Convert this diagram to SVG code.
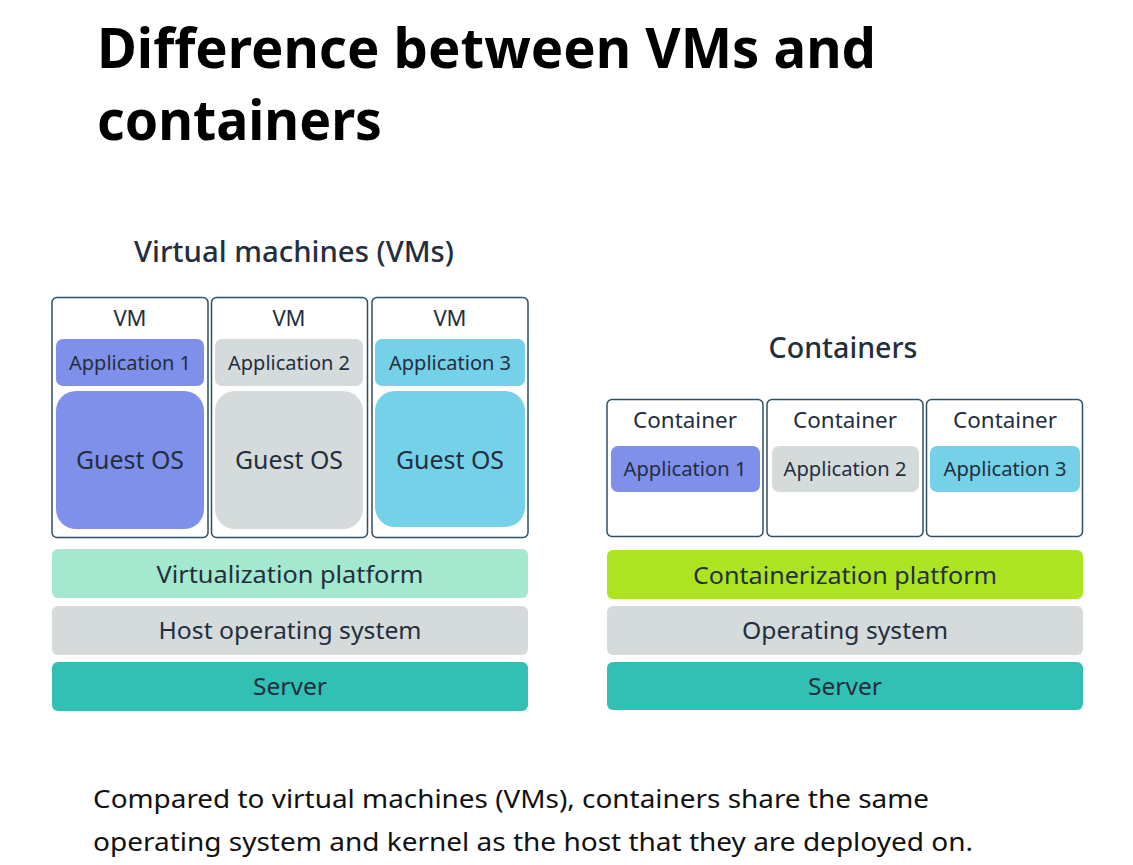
<svg xmlns="http://www.w3.org/2000/svg" width="1133" height="865" viewBox="0 0 1133 865">
<style>
text{font-family:"Noto Sans","Open Sans",sans-serif;fill:#232F3E;text-anchor:middle}
.title{font-size:56px;font-weight:bold;fill:#000;text-anchor:start}
.body{font-size:25px;fill:#111;text-anchor:start}
.sub{font-size:28px;font-weight:500}
.frame{fill:#fff;stroke:#2F4F64;stroke-width:1.5}
.lbl{font-size:22px}
.app{font-size:19px}
.os{font-size:26px}
.bar{font-size:24px}
.purple{fill:#7F90EA}
.gray{fill:#D5DBDB}
.cyan{fill:#74D1E8}
</style>
<rect width="1133" height="865" fill="#fff"/>
<text class="title" x="97" y="68" textLength="779" lengthAdjust="spacingAndGlyphs">Difference between VMs and</text>
<text class="title" x="97" y="140" textLength="285" lengthAdjust="spacingAndGlyphs">containers</text>

<text class="sub" x="294" y="262" textLength="320" lengthAdjust="spacingAndGlyphs">Virtual machines (VMs)</text>
<text class="sub" x="843" y="358" font-weight="600" textLength="149" lengthAdjust="spacingAndGlyphs">Containers</text>

<g id="vm1">
<rect class="frame" x="52" y="297.5" width="156" height="240" rx="5"/>
<text class="lbl" x="130" y="326">VM</text>
<rect class="purple" x="56" y="339" width="148" height="47" rx="7"/>
<text class="app" x="130" y="370" textLength="122" lengthAdjust="spacingAndGlyphs">Application 1</text>
<rect class="purple" x="56" y="391" width="148" height="138" rx="20"/>
<text class="os" x="130" y="469" textLength="108" lengthAdjust="spacingAndGlyphs">Guest OS</text>
</g>
<g id="vm2">
<rect class="frame" x="211.5" y="297.5" width="156" height="240" rx="5"/>
<text class="lbl" x="289" y="326">VM</text>
<rect class="gray" x="215" y="339" width="148" height="47" rx="7"/>
<text class="app" x="289" y="370" textLength="122" lengthAdjust="spacingAndGlyphs">Application 2</text>
<rect class="gray" x="215" y="391" width="148" height="138" rx="20"/>
<text class="os" x="289" y="469" textLength="108" lengthAdjust="spacingAndGlyphs">Guest OS</text>
</g>
<g id="vm3">
<rect class="frame" x="372" y="297.5" width="156" height="240" rx="5"/>
<text class="lbl" x="450" y="326">VM</text>
<rect class="cyan" x="375" y="339" width="150" height="47" rx="7"/>
<text class="app" x="450" y="370" textLength="122" lengthAdjust="spacingAndGlyphs">Application 3</text>
<rect class="cyan" x="375" y="391" width="150" height="136" rx="20"/>
<text class="os" x="450" y="469" textLength="108" lengthAdjust="spacingAndGlyphs">Guest OS</text>
</g>

<g id="virt-platform">
<rect x="52" y="549" width="476" height="49" rx="6" fill="#A3E8CF"/>
<text class="bar" x="290" y="583" textLength="267" lengthAdjust="spacingAndGlyphs">Virtualization platform</text>
</g>
<g id="host-os">
<rect x="52" y="606" width="476" height="49" rx="6" fill="#D5DBDB"/>
<text class="bar" x="290" y="639" textLength="263" lengthAdjust="spacingAndGlyphs">Host operating system</text>
</g>
<g id="vm-server">
<rect x="52" y="662" width="476" height="49" rx="6" fill="#33C0B4"/>
<text class="bar" x="290" y="695" textLength="74" lengthAdjust="spacingAndGlyphs">Server</text>
</g>

<g id="c1">
<rect class="frame" x="607" y="399.5" width="156" height="137" rx="5"/>
<text class="lbl" x="685" y="428" textLength="104" lengthAdjust="spacingAndGlyphs">Container</text>
<rect class="purple" x="611" y="446" width="149" height="46" rx="7"/>
<text class="app" x="685" y="476" textLength="123" lengthAdjust="spacingAndGlyphs">Application 1</text>
</g>
<g id="c2">
<rect class="frame" x="767" y="399.5" width="156" height="137" rx="5"/>
<text class="lbl" x="845" y="428" textLength="104" lengthAdjust="spacingAndGlyphs">Container</text>
<rect class="gray" x="772" y="446" width="147" height="46" rx="7"/>
<text class="app" x="845" y="476" textLength="123" lengthAdjust="spacingAndGlyphs">Application 2</text>
</g>
<g id="c3">
<rect class="frame" x="926.5" y="399.5" width="156" height="137" rx="5"/>
<text class="lbl" x="1005" y="428" textLength="104" lengthAdjust="spacingAndGlyphs">Container</text>
<rect class="cyan" x="930" y="446" width="150" height="46" rx="7"/>
<text class="app" x="1005" y="476" textLength="123" lengthAdjust="spacingAndGlyphs">Application 3</text>
</g>

<g id="cont-platform">
<rect x="607" y="550" width="476" height="49" rx="6" fill="#ADE422"/>
<text class="bar" x="845" y="584" textLength="304" lengthAdjust="spacingAndGlyphs">Containerization platform</text>
</g>
<g id="os">
<rect x="607" y="606" width="476" height="49" rx="6" fill="#D5DBDB"/>
<text class="bar" x="845" y="639" textLength="206" lengthAdjust="spacingAndGlyphs">Operating system</text>
</g>
<g id="c-server">
<rect x="607" y="662" width="476" height="48" rx="6" fill="#33C0B4"/>
<text class="bar" x="845" y="695" textLength="74" lengthAdjust="spacingAndGlyphs">Server</text>
</g>

<g id="connectors"></g>

<text class="body" x="93" y="808" textLength="836" lengthAdjust="spacingAndGlyphs">Compared to virtual machines (VMs), containers share the same</text>
<text class="body" x="93" y="851" textLength="880" lengthAdjust="spacingAndGlyphs">operating system and kernel as the host that they are deployed on.</text>
</svg>
